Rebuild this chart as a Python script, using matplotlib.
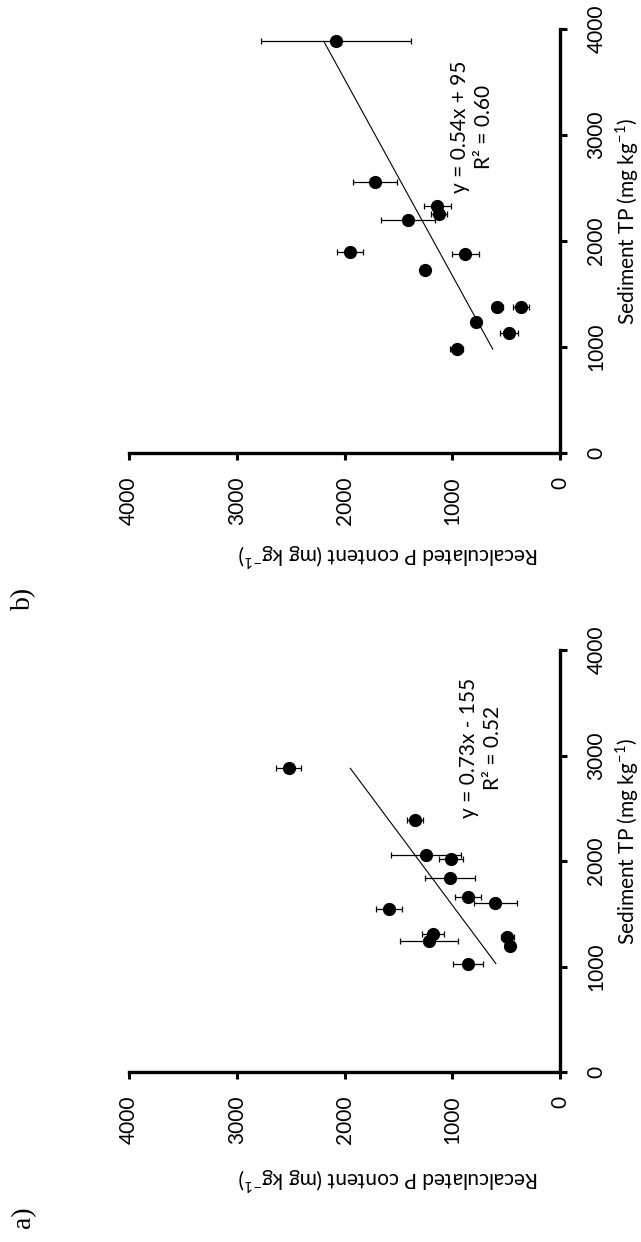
import numpy as np
import matplotlib
matplotlib.use("Agg")
import matplotlib.pyplot as plt

plt.rcParams['font.family'] = ['Lato', 'DejaVu Sans']
plt.rcParams['mathtext.fontset'] = 'custom'
plt.rcParams['mathtext.rm'] = 'Lato'

# panel a) sediment TP vs recalculated P content (mg/kg)
tp_a = [2879, 2386, 2061, 2020, 1840, 1660, 1600, 1543, 1309, 1243, 1275, 1199, 1028]
p_a = [2519, 1343, 1245, 1013, 1024, 853, 599, 1590, 1176, 1212, 490, 468, 853]
err_a = [114, 75, 325, 109, 232, 120, 202, 122, 101, 269, 59, 30, 136]
fit_a = (0.73, -155)
eq_a = 'y = 0.73x - 155\nR² = 0.52'

# panel b)
tp_b = [3884, 2552, 2334, 2255, 2196, 1899, 1877, 1726, 1380, 1373, 1238, 1128, 980]
p_b = [2077, 1717, 1138, 1122, 1410, 1949, 878, 1250, 583, 362, 779, 474, 958]
err_b = [697, 200, 123, 74, 247, 119, 122, 20, 50, 72, 20, 83, 59]
fit_b = (0.54, 95)
eq_b = 'y = 0.54x + 95\nR² = 0.60'

ticks = [0, 1000, 2000, 3000, 4000]
tp_label = 'Sediment TP (mg kg$^{\\mathregular{-1}}$)'
p_label = 'Recalculated P content (mg kg$^{\\mathregular{-1}}$)'

W, H = 641, 1242
fig = plt.figure(figsize=(W / 100, H / 100), dpi=100)


def panel(top_px, bot_px, tp, p, err, fit, eq, eq_pos, letter, lab_off):
    left, right = 129, 560
    ax = fig.add_axes([left / W, 1 - bot_px / H, (right - left) / W, (bot_px - top_px) / H])
    # whole chart is turned 90 degrees: P content runs right-to-left, TP bottom-to-top
    ax.errorbar(p, tp, xerr=err, fmt='o', color='black', ms=8.5, ecolor='black',
                elinewidth=0.9, capsize=2.5, capthick=0.9, zorder=3)
    t = np.array([min(tp), max(tp)])
    ax.plot(fit[0] * t + fit[1], t, color='black', lw=0.8)
    ax.set_xlim(4000, 0)
    ax.set_ylim(0, 4000)
    ax.set_xticks(ticks)
    ax.set_yticks(ticks)
    ax.spines['left'].set_visible(False)
    ax.spines['top'].set_visible(False)
    for s in ('right', 'bottom'):
        ax.spines[s].set_linewidth(2.4)
        ax.spines[s].set_capstyle('projecting')
    ax.yaxis.tick_right()
    ax.yaxis.set_label_position('right')
    ax.tick_params(axis='both', direction='out', length=5, width=2.2, labelsize=15)
    ax.tick_params(axis='x', pad=12, labelrotation=90)
    ax.tick_params(axis='y', pad=14, labelrotation=90)
    for lb in ax.get_yticklabels():
        lb.set_va('center')
        lb.set_ha('left')
    ax.set_ylabel(tp_label, fontsize=15, rotation=90, va='center', ha='center')
    ax.yaxis.set_label_coords(1.155, 0.546)
    ax.set_xlabel(p_label, fontsize=15, rotation=180, va='center', ha='center')
    ax.xaxis.set_label_coords(0.602, -lab_off / (bot_px - top_px))
    ax.text(eq_pos[0], eq_pos[1], eq, rotation=90, ha='center', va='center',
            multialignment='center', fontsize=15, linespacing=1.25)
    fig.text(24 / W, 1 - (bot_px + 145) / H, letter, rotation=90, ha='center', va='center',
             fontsize=20, family='Liberation Serif')
    return ax


panel(29, 453, tp_b, p_b, err_b, fit_b, eq_b, (817, 3074), 'b)', 102)
panel(650, 1072, tp_a, p_a, err_a, fit_a, eq_a, (734, 3068), 'a)', 107)

fig.savefig('out.png', dpi=100)
